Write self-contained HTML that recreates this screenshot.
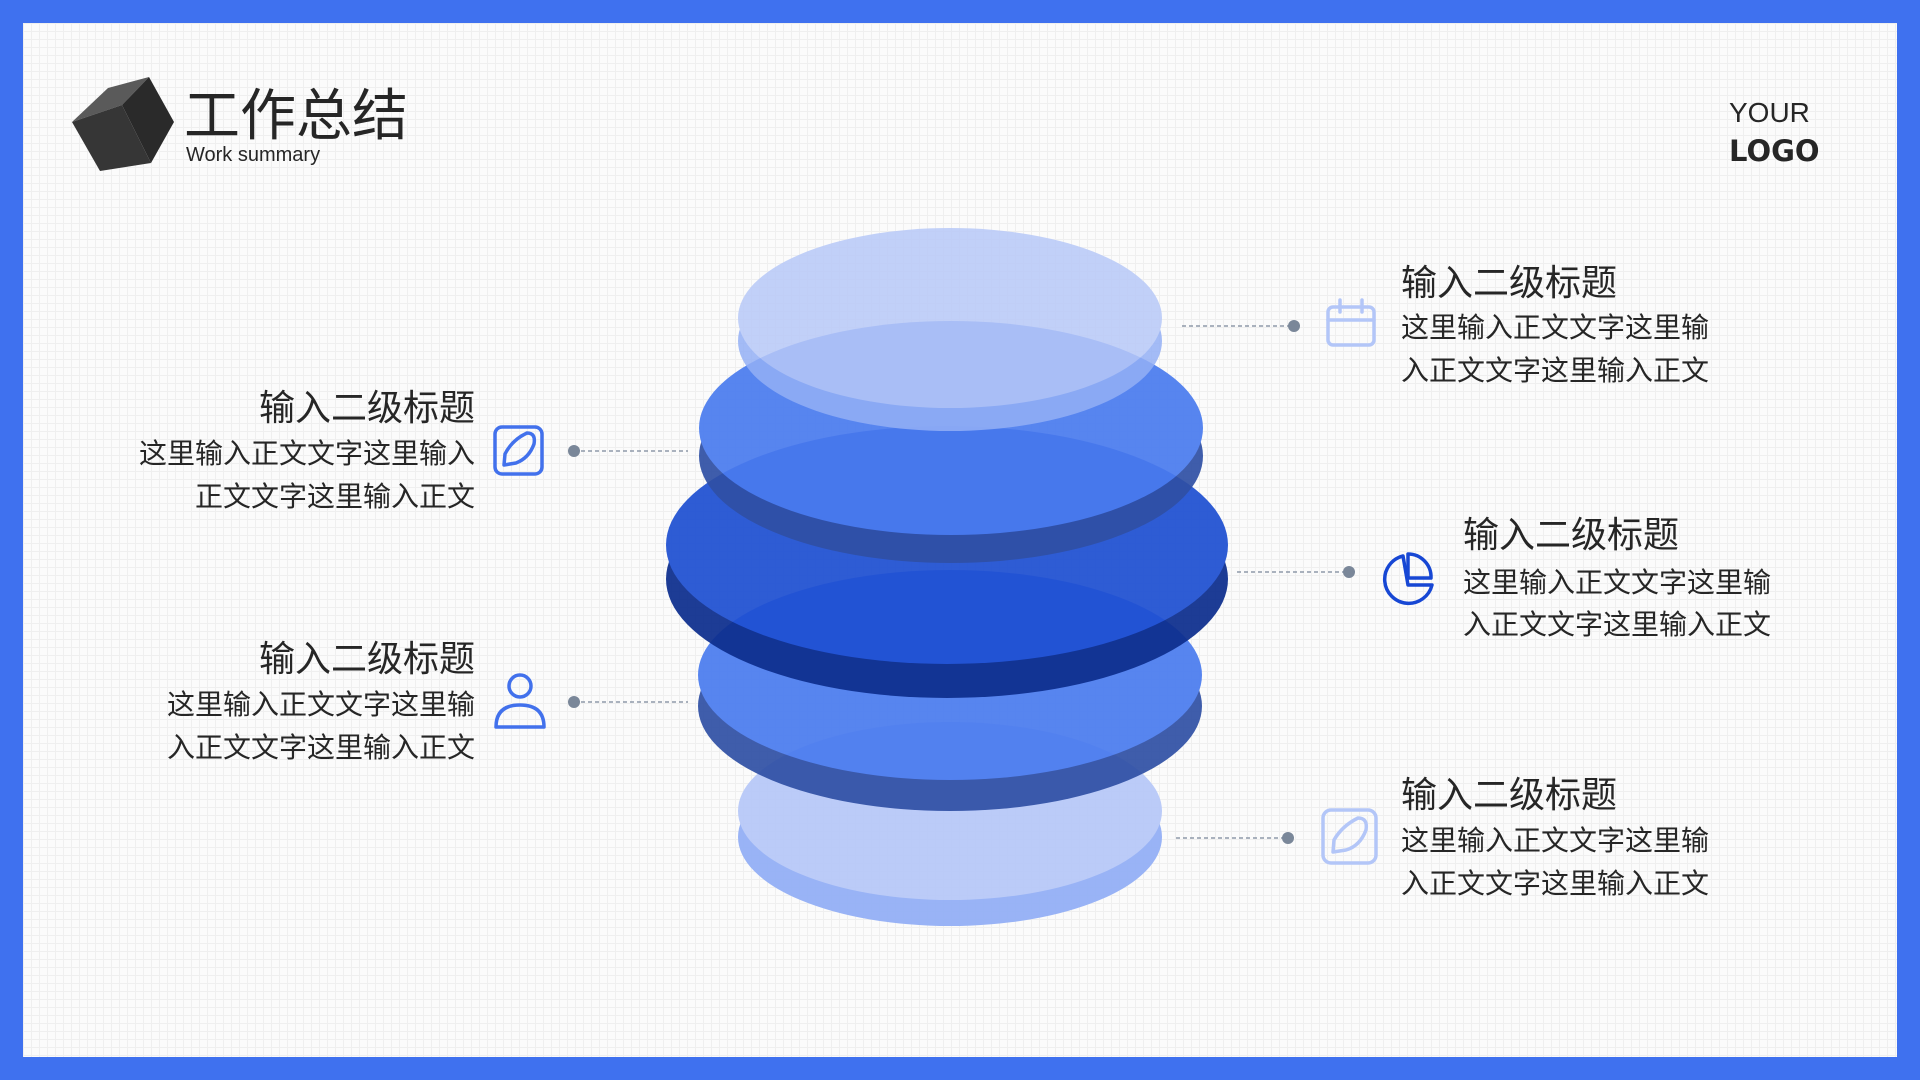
<!DOCTYPE html>
<html><head><meta charset="utf-8"><style>
html,body{margin:0;padding:0;width:1920px;height:1080px;overflow:hidden}
body{background:#3f71ef;}
.page{position:absolute;left:23px;top:23px;width:1874px;height:1034px;background-color:#fbfbfb;
background-image:linear-gradient(#efefef 1px,transparent 1px),linear-gradient(90deg,#efefef 1px,transparent 1px);background-size:8px 8px;}
svg{position:absolute;left:0;top:0}
text{font-family:"Liberation Sans","Noto Sans CJK SC",sans-serif;fill:#262626}
</style></head><body>
<div class="page"></div>
<svg width="1920" height="1080" viewBox="0 0 1920 1080">
<!-- cube -->
<polygon points="72,122 108,88 149,77 122,105" fill="#5a5a5a"/>
<polygon points="122,105 149,77 174,122 151,163" fill="#2a2a2a"/>
<polygon points="72,122 122,105 151,163 100,171" fill="#363636"/>
<text x="184" y="135" font-size="56">工作总结</text>
<text x="186" y="161" font-size="20">Work summary</text>
<text x="1729" y="122" font-size="28" style="font-family:'Liberation Sans','DejaVu Sans',sans-serif">YOUR</text>
<text x="1729" y="161" font-size="29" font-weight="bold" style="font-family:'DejaVu Sans',sans-serif" fill="#111">LOGO</text>

<!-- discs bottom to top -->
<g opacity="0.95">
<ellipse cx="950" cy="837" rx="212" ry="89" fill="#94b0f6"/>
<ellipse cx="950" cy="811" rx="212" ry="89" fill="#b8c9f8"/>
</g>
<g opacity="0.92">
<ellipse cx="950" cy="706" rx="252" ry="105" fill="#3050a5"/>
<ellipse cx="950" cy="675" rx="252" ry="105" fill="#4a7bef"/>
</g>
<g opacity="0.93">
<ellipse cx="947" cy="579" rx="281" ry="119" fill="#0d2e8e"/>
<ellipse cx="947" cy="545" rx="281" ry="119" fill="#1f50d2"/>
</g>
<g opacity="0.92">
<ellipse cx="951" cy="456" rx="252" ry="107" fill="#3050a5"/>
<ellipse cx="951" cy="428" rx="252" ry="107" fill="#4a7bef"/>
</g>
<g opacity="0.85">
<ellipse cx="950" cy="341" rx="212" ry="90" fill="#94b0f6"/>
<ellipse cx="950" cy="318" rx="212" ry="90" fill="#b8c9f8"/>
</g>

<!-- connectors -->
<g stroke="#7a8799" stroke-width="1.3" stroke-dasharray="4 3">
<line x1="1182" y1="326" x2="1294" y2="326"/>
<line x1="1237" y1="572" x2="1349" y2="572"/>
<line x1="1176" y1="838" x2="1288" y2="838"/>
<line x1="574" y1="451" x2="688" y2="451"/>
<line x1="574" y1="702" x2="688" y2="702"/>
</g>
<g fill="#7a8799">
<circle cx="1294" cy="326" r="6"/><circle cx="1349" cy="572" r="6"/><circle cx="1288" cy="838" r="6"/>
<circle cx="574" cy="451" r="6"/><circle cx="574" cy="702" r="6"/>
</g>

<!-- icons -->
<g fill="none" stroke-width="3.5" stroke-linejoin="round" stroke-linecap="round">
<g stroke="#b3c6f8"><rect x="1328" y="307" width="46" height="38" rx="5"/><line x1="1328" y1="320" x2="1374" y2="320"/><line x1="1340" y1="300" x2="1340" y2="312"/><line x1="1362" y1="300" x2="1362" y2="312"/></g>
<g stroke="#b3c6f8"><rect x="1323" y="810" width="53" height="53" rx="8"/><path d="M1333,852 L1334,840 Q1342,826 1358,818 Q1368,818 1366,830 Q1360,846 1346,850 Z"/></g>
<g stroke="#1747d4"><path d="M1403,556 A24,24 0 1 0 1432,585 L1408,585 Z"/><path d="M1408,554 L1408,578 L1431,578 A23,23 0 0 0 1408,554 Z"/></g>
<g stroke="#4271ec"><rect x="495" y="427" width="47" height="47" rx="7"/><path d="M504,465 L505,454 Q512,440 527,433 Q536,433 534,444 Q529,458 516,463 Z"/></g>
<g stroke="#4271ec"><circle cx="520" cy="686" r="11"/><path d="M496,727 Q496,705 520,705 Q544,705 544,727 Z"/></g>
</g>

<!-- texts -->
<g font-size="36"><text x="1401" y="295">输入二级标题</text><text x="1463" y="547">输入二级标题</text><text x="1401" y="807">输入二级标题</text>
<text x="475" y="420" text-anchor="end">输入二级标题</text><text x="475" y="671" text-anchor="end">输入二级标题</text></g>
<g font-size="28">
<text x="1401" y="337">这里输入正文文字这里输</text><text x="1401" y="380">入正文文字这里输入正文</text>
<text x="1463" y="592">这里输入正文文字这里输</text><text x="1463" y="634">入正文文字这里输入正文</text>
<text x="1401" y="850">这里输入正文文字这里输</text><text x="1401" y="893">入正文文字这里输入正文</text>
<text x="475" y="463" text-anchor="end">这里输入正文文字这里输入</text><text x="475" y="506" text-anchor="end">正文文字这里输入正文</text>
<text x="475" y="714" text-anchor="end">这里输入正文文字这里输</text><text x="475" y="757" text-anchor="end">入正文文字这里输入正文</text>
</g>
</svg>
</body></html>
